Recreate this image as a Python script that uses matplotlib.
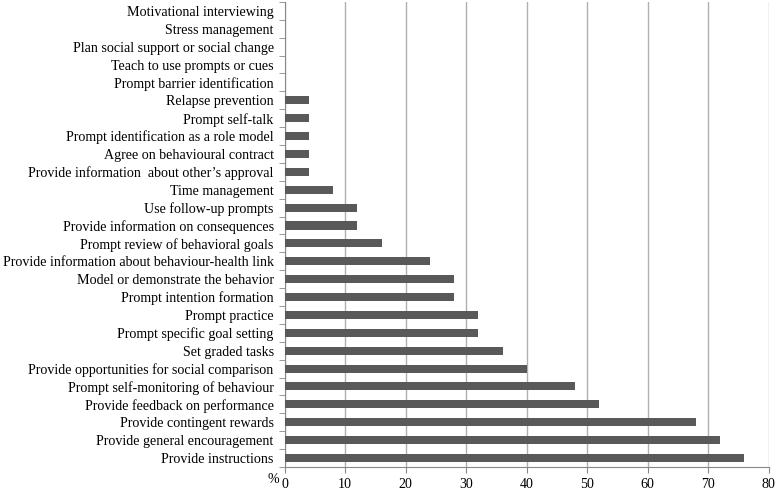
import numpy as np
import matplotlib.pyplot as plt

plt.rcParams['font.family'] = ['Liberation Serif', 'DejaVu Serif']

# categories top to bottom
labels = [
    'Motivational interviewing',
    'Stress management',
    'Plan social support or social change',
    'Teach to use prompts or cues',
    'Prompt barrier identification',
    'Relapse prevention',
    'Prompt self-talk',
    'Prompt identification as a role model',
    'Agree on behavioural contract',
    'Provide information  about other\u2019s approval',
    'Time management',
    'Use follow-up prompts',
    'Provide information on consequences',
    'Prompt review of behavioral goals',
    'Provide information about behaviour-health link',
    'Model or demonstrate the behavior',
    'Prompt intention formation',
    'Prompt practice',
    'Prompt specific goal setting',
    'Set graded tasks',
    'Provide opportunities for social comparison',
    'Prompt self-monitoring of behaviour',
    'Provide feedback on performance',
    'Provide contingent rewards',
    'Provide general encouragement',
    'Provide instructions',
]
values = [0, 0, 0, 0, 0, 4, 4, 4, 4, 4, 8, 12, 12, 16, 24, 28, 28, 32, 32, 36, 40, 48, 52, 68, 72, 76]
xticks = [0, 10, 20, 30, 40, 50, 60, 70, 80]

fs = 10.1

fig = plt.figure(figsize=(7.78, 4.91), dpi=100)
ax = fig.add_axes([0.366, 0.049, 0.622, 0.947])

n = len(labels)
y = np.arange(n)[::-1]
ax.barh(y, values, height=0.45, color='#595959', zorder=3)

ax.set_xlim(0, 80)
ax.set_ylim(-0.5, n - 0.5)
ax.set_xticks(xticks)
ax.set_xticklabels([str(t) for t in xticks], fontsize=fs)
ax.set_yticks(y)
ax.set_yticklabels(labels, fontsize=fs)
ax.tick_params(axis='y', length=0, pad=8)
ax.set_yticks(np.arange(n + 1) - 0.5, minor=True)
ax.tick_params(axis='y', which='minor', length=4, color='#888888')
ax.tick_params(axis='x', length=4, color='#888888', pad=4)

ax.grid(axis='x', color='#b0b0b0', linewidth=1, zorder=0)
for s in ['top', 'right']:
    ax.spines[s].set_visible(False)
ax.spines['left'].set_color('#888888')
ax.spines['bottom'].set_color('#888888')

ax.text(-0.012, -0.028, '%', transform=ax.transAxes, ha='right', va='center', fontsize=fs)

plt.savefig('out.png', dpi=100)
